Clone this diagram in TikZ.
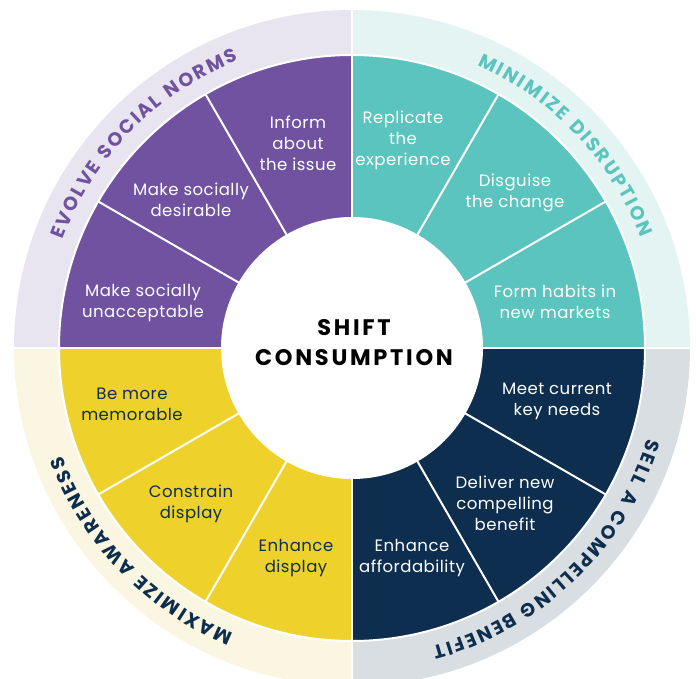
\documentclass[tikz,border=0pt]{standalone}
\usepackage{fontspec}
\setmainfont{Poppins}
\usetikzlibrary{decorations.text}
\definecolor{cPur}{HTML}{7052A0}
\definecolor{cPurL}{HTML}{E8E4F0}
\definecolor{cTeal}{HTML}{5CC4BE}
\definecolor{cTealL}{HTML}{E3F4F3}
\definecolor{cNavy}{HTML}{0D2E4E}
\definecolor{cNavyL}{HTML}{D9DEE3}
\definecolor{cYel}{HTML}{EED22B}
\definecolor{cYelL}{HTML}{FAF6E1}
\newcommand\ringfont{\fontsize{19}{19}\selectfont\bfseries}
\begin{document}
\begin{tikzpicture}[x=1pt,y=1pt,
  wlabel/.style={align=center, font=\fontsize{16.5}{21}\selectfont\addfontfeatures{LetterSpace=3}, inner sep=0pt},
  wwhite/.style={wlabel, text=white},
  wnavy/.style={wlabel, text=cNavy},
  sepline/.style={white, line width=2pt},
  ringtext/.style 2 args={decorate, decoration={text effects along path, text={#1}, text align=center,
     text effects/.cd, text along path, character widths={font=\ringfont, inner xsep=1.05pt},
     characters={text=#2, font=\ringfont}}},
]
\useasboundingbox (-352,-331) rectangle (344,348);
\clip (-352,-331) rectangle (344,348);
% outer light ring
\fill[cPurL]  (0,0) -- (180:338) arc[start angle=180, end angle=90,  radius=338] -- cycle;
\fill[cTealL] (0,0) -- (90:338)  arc[start angle=90,  end angle=0,   radius=338] -- cycle;
\fill[cNavyL] (0,0) -- (0:338)   arc[start angle=0,   end angle=-90, radius=338] -- cycle;
\fill[cYelL]  (0,0) -- (270:338) arc[start angle=270, end angle=180, radius=338] -- cycle;
% inner coloured wedges
\fill[cPur]  (0,0) -- (180:293) arc[start angle=180, end angle=90,  radius=293] -- cycle;
\fill[cTeal] (0,0) -- (90:293)  arc[start angle=90,  end angle=0,   radius=293] -- cycle;
\fill[cNavy] (0,0) -- (0:293)   arc[start angle=0,   end angle=-90, radius=293] -- cycle;
\fill[cYel]  (0,0) -- (270:293) arc[start angle=270, end angle=180, radius=293] -- cycle;
\draw[sepline] (0,0) circle[radius=293];
\foreach \a in {30,60,120,150,210,240,300,330} \draw[sepline] (\a:130) -- (\a:293);
\foreach \a in {0,90,180,270} \draw[sepline] (\a:130) -- (\a:293);
\foreach \a in {0,90,180,270} \draw[white, line width=1.2pt] (\a:293) -- (\a:345);
\fill[white] (0,0) circle[radius=131];
% ring labels
\begin{scope}
\ringfont
\path[ringtext={EVOLVE SOCIAL NORMS}{cPur}]  (181:309) arc[start angle=181, end angle=90, radius=309];
\path[ringtext={MINIMIZE DISRUPTION}{cTeal}] (88:309) arc[start angle=88, end angle=-1, radius=309];
\path[ringtext={SELL A COMPELLING BENEFIT}{cNavy}] (-1:309) arc[start angle=-1, end angle=-91, radius=309];
\path[ringtext={MAXIMIZE AWARENESS}{cNavy}] (269:309) arc[start angle=269, end angle=179, radius=309];
\end{scope}
% centre
\node[font=\fontsize{22.5}{30}\selectfont\bfseries\addfontfeatures{LetterSpace=12}, align=center, inner sep=0pt] (ctr) at (2,5) {SHIFT\\CONSUMPTION};
% purple
\node[wwhite] (p1) at (-54,205) {Inform\\about\\the issue};
\node[wwhite] (p2) at (-161,148) {Make socially\\desirable};
\node[wwhite] (p3) at (-209,45) {Make socially\\unacceptable};
% teal
\node[wwhite] (t1) at (51,208) {Replicate\\the\\experience};
\node[wwhite] (t2) at (163,155) {Disguise\\the change};
\node[wwhite] (t3) at (203,46) {Form habits in\\new markets};
% navy
\node[wwhite] (n1) at (205,-53) {Meet current\\key needs};
\node[wwhite] (n2) at (153,-155) {Deliver new\\compelling\\benefit};
\node[wwhite] (n3) at (60,-210) {Enhance\\affordability};
% yellow
\node[wnavy] (y1) at (-220,-56) {Be more\\memorable};
\node[wnavy] (y2) at (-161,-156) {Constrain\\display};
\node[wnavy] (y3) at (-56,-210) {Enhance\\display};
\end{tikzpicture}
\end{document}
